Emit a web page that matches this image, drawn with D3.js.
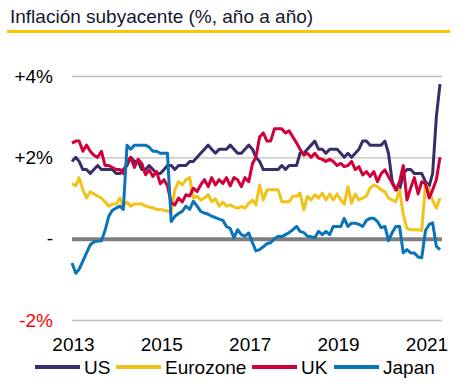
<!DOCTYPE html>
<html>
<head>
<meta charset="utf-8">
<script src="https://cdn.jsdelivr.net/npm/d3@7"></script>
<style>
  html, body { margin: 0; padding: 0; background: #ffffff; }
  svg { display: block; font-family: "Liberation Sans", Arial, sans-serif; }
</style>
</head>
<body>
<svg id="chart" width="468" height="387"></svg>
<script>
// ---------- DATA (monthly, Jan 2013 – May 2021) ----------
const title = "Inflación subyacente (%, año a año)";
const startMonth = [2013, 0];
const seriesNames = ["US", "Eurozone", "UK", "Japan"];
const seriesColors = ["#3a2d6b", "#f1c21b", "#d2003a", "#0a74b9"];

const usValues = [
  1.9,2.0,1.9,1.7,1.7,1.6,1.7,1.8,1.7,1.7,1.7,1.7,
  1.6,1.6,1.7,1.8,2.0,1.9,1.9,1.7,1.7,1.8,1.7,1.6,
  1.6,1.7,1.8,1.8,1.7,1.8,1.8,1.8,1.9,1.9,2.0,2.1,
  2.2,2.3,2.2,2.1,2.2,2.2,2.2,2.3,2.2,2.1,2.1,2.2,
  2.3,2.2,2.0,1.9,1.7,1.7,1.7,1.7,1.7,1.8,1.7,1.8,
  1.8,1.8,2.1,2.1,2.2,2.3,2.4,2.2,2.2,2.1,2.2,2.2,
  2.2,2.1,2.0,2.1,2.0,2.1,2.2,2.4,2.4,2.3,2.3,2.3,
  2.3,2.4,2.1,1.4,1.2,1.2,1.6,1.7,1.7,1.6,1.6,1.6,
  1.4,1.3,1.6,3.0,3.8
];
const eurozoneValues = [
  1.35,1.3,1.5,1.2,1.0,1.15,1.1,1.05,1.0,0.9,0.8,0.85,
  0.85,1.0,0.8,0.9,0.8,0.85,0.85,0.85,0.8,0.78,0.76,0.72,
  0.72,0.7,0.68,0.65,1.2,1.4,1.32,1.45,1.5,1.0,1.04,0.95,
  1.0,1.08,0.91,0.98,0.8,0.9,0.8,0.83,0.78,0.75,0.79,0.75,
  0.87,0.95,0.83,1.32,0.95,1.2,1.2,1.2,1.2,0.91,0.91,0.91,
  1.04,1.04,1.12,0.71,1.04,0.95,1.08,1.0,1.12,0.95,1.1,0.95,
  1.1,0.95,0.85,1.28,0.87,1.1,0.95,1.0,1.05,1.24,1.32,1.28,
  1.2,1.15,1.0,0.95,0.91,1.2,0.6,0.25,0.22,0.22,0.22,0.2,
  1.35,1.2,0.95,0.75,1.0
];
const ukValues = [
  2.35,2.4,2.4,2.15,2.3,2.15,2.05,2.0,2.15,1.8,1.8,1.75,
  1.7,1.7,1.6,1.9,2.0,1.75,1.95,1.85,1.57,1.69,1.53,1.65,
  1.35,1.45,1.3,0.88,0.83,1.0,0.9,1.08,1.05,1.24,1.16,1.32,
  1.45,1.28,1.5,1.32,1.45,1.36,1.5,1.3,1.5,1.45,1.28,1.5,
  1.4,1.85,2.0,2.5,2.6,2.4,2.4,2.7,2.7,2.7,2.6,2.65,
  2.5,2.35,2.2,2.05,2.1,2.0,2.1,1.98,1.95,1.9,1.95,1.9,
  1.8,1.85,1.77,1.8,1.9,1.7,1.77,1.57,1.65,1.53,1.65,1.4,
  1.6,1.69,1.53,1.36,1.2,1.4,1.8,0.95,1.25,1.5,1.1,1.4,
  1.35,1.0,1.2,1.45,2.0
];
const japanValues = [
  -0.6,-0.85,-0.75,-0.55,-0.35,-0.15,-0.08,-0.06,-0.05,0.2,0.55,0.7,
  0.75,0.8,0.72,2.3,2.2,2.3,2.3,2.3,2.3,2.25,2.15,2.15,
  2.1,2.1,2.1,0.42,0.55,0.62,0.67,0.8,0.72,0.92,0.8,0.67,
  0.63,0.6,0.55,0.52,0.48,0.45,0.3,0.25,0.02,0.22,0.1,0.06,
  0.14,-0.1,-0.3,-0.27,-0.2,-0.12,-0.1,0.0,0.06,0.05,0.1,0.15,
  0.22,0.3,0.18,0.15,0.06,0.05,0.02,0.18,0.1,0.18,0.1,0.3,
  0.3,0.3,0.5,0.3,0.38,0.38,0.35,0.3,0.45,0.5,0.5,0.42,
  0.27,0.3,-0.05,0.15,0.3,0.3,-0.35,-0.27,-0.35,-0.35,-0.45,-0.47,
  0.2,0.35,0.39,-0.19,-0.27
];
const yTicks = [-2, 0, 2, 4];
const yTickLabels = ["-2%", "-", "+2%", "+4%"];
const xTickYears = [2013, 2015, 2017, 2019, 2021];

// ---------- CHART ----------
const svg = d3.select("#chart");
const seriesValues = [usValues, eurozoneValues, ukValues, japanValues];
const dateOf = i => new Date(startMonth[0], startMonth[1] + i, 1);
const nMonths = usValues.length;

const x = d3.scaleTime()
  .domain([dateOf(0), dateOf(nMonths - 1)])
  .range([72, 440]);
const y = d3.scaleLinear().domain([-2, 4]).range([320, 76]);

// Title
svg.append("text")
  .attr("x", 10).attr("y", 23)
  .attr("font-size", 19)
  .attr("fill", "#16162e")
  .text(title);
svg.append("rect")
  .attr("x", 7).attr("y", 30).attr("width", 443).attr("height", 3)
  .attr("fill", "#ffc400");

// Y axis with gridlines
const yAxis = svg.append("g")
  .attr("transform", "translate(72,0)")
  .call(d3.axisLeft(y)
    .tickValues(yTicks)
    .tickFormat((d, i) => yTickLabels[i])
    .tickSize(-370)
    .tickPadding(19));
yAxis.select(".domain").remove();
yAxis.selectAll(".tick line")
  .attr("stroke", d => d === 0 ? "#7f7f7f" : "#c0c0c0")
  .attr("stroke-width", d => d === 0 ? 4 : 1.3);
yAxis.selectAll(".tick text")
  .attr("font-size", 19)
  .attr("font-family", "Liberation Sans, Arial, sans-serif")
  .attr("fill", d => d < 0 ? "#ff0000" : "#000000");

// X axis labels
const xAxis = svg.append("g")
  .attr("transform", "translate(1,320)")
  .call(d3.axisBottom(x)
    .tickValues(xTickYears.map(yr => new Date(yr, 0, 1)))
    .tickFormat(d3.timeFormat("%Y"))
    .tickSize(0)
    .tickPadding(18));
xAxis.select(".domain").remove();
xAxis.selectAll(".tick text")
  .attr("font-size", 19)
  .attr("font-family", "Liberation Sans, Arial, sans-serif")
  .attr("fill", "#000000");

// Lines
const line = d3.line()
  .x((d, i) => x(dateOf(i)))
  .y(d => y(d));
seriesValues.forEach((vals, k) => {
  svg.append("path")
    .datum(vals)
    .attr("fill", "none")
    .attr("stroke", seriesColors[k])
    .attr("stroke-width", 3)
    .attr("stroke-linejoin", "round")
    .attr("d", line);
});

// Legend
const legendX = [35, 116, 252, 334];
const legend = svg.append("g");
seriesNames.forEach((name, k) => {
  legend.append("line")
    .attr("x1", legendX[k]).attr("x2", legendX[k] + 45)
    .attr("y1", 367).attr("y2", 367)
    .attr("stroke", seriesColors[k])
    .attr("stroke-width", 4);
  legend.append("text")
    .attr("x", legendX[k] + 49)
    .attr("y", 373.5)
    .attr("font-size", 19)
    .attr("fill", "#000000")
    .text(name);
});
</script>
</body>
</html>
